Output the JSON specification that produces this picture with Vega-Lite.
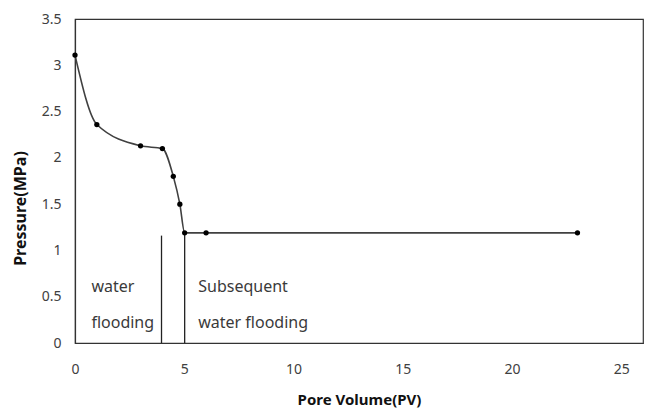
{
  "$schema": "https://vega.github.io/schema/vega-lite/v6.json",
  "width": 568,
  "height": 324,
  "autosize": {"type": "none"},
  "padding": {"left": 75, "top": 19, "right": 8, "bottom": 67},
  "background": "white",
  "config": {
    "view": {"stroke": "#333333", "strokeWidth": 1.2},
    "font": "Noto Sans",
    "axis": {"grid": false, "ticks": false, "labelFlush": false, "labelOverlap": false, "domainColor": "#333333", "domainWidth": 1.2, "labelColor": "#404040", "labelFontSize": 14, "titleColor": "#111111", "titleFontWeight": "bold", "titleFontSize": 15}
  },
  "datasets": {
    "pressure": [
      {"pv": 0, "p": 3.11},
      {"pv": 1, "p": 2.36},
      {"pv": 3, "p": 2.13},
      {"pv": 4, "p": 2.1},
      {"pv": 4.5, "p": 1.8},
      {"pv": 4.8, "p": 1.5},
      {"pv": 5.02, "p": 1.19},
      {"pv": 6, "p": 1.19},
      {"pv": 23, "p": 1.19}
    ],
    "dividers": [
      {"pv": 3.96, "p0": 0, "p1": 1.16},
      {"pv": 5.02, "p0": 0, "p1": 1.19}
    ],
    "notes": [
      {"pv": 0.75, "p": 0.6, "text": "water"},
      {"pv": 0.75, "p": 0.22, "text": "flooding"},
      {"pv": 5.64, "p": 0.6, "text": "Subsequent"},
      {"pv": 5.64, "p": 0.22, "text": "water flooding"}
    ]
  },
  "layer": [
    {
      "data": {"name": "dividers"},
      "mark": {"type": "rule", "color": "#222222", "strokeWidth": 1.3},
      "encoding": {
        "x": {"field": "pv", "type": "quantitative", "scale": {"domain": [0, 25]}},
        "y": {"field": "p0", "type": "quantitative", "scale": {"domain": [0, 3.5]}},
        "y2": {"field": "p1"}
      }
    },
    {
      "data": {"name": "pressure"},
      "mark": {"type": "line", "interpolate": "monotone", "color": "#404040", "strokeWidth": 1.6},
      "encoding": {
        "x": {"field": "pv", "type": "quantitative", "scale": {"domain": [0, 25]},
          "axis": {"title": "Pore Volume(PV)", "values": [0, 5, 10, 15, 20, 25], "format": "~g", "labelPadding": 19, "titlePadding": 16}},
        "y": {"field": "p", "type": "quantitative", "scale": {"domain": [0, 3.5]},
          "axis": {"title": "Pressure(MPa)", "values": [0, 0.5, 1, 1.5, 2, 2.5, 3, 3.5], "format": "~g", "labelPadding": 14, "titlePadding": 13, "titleFontSize": 16, "titleY": 189}}
      }
    },
    {
      "data": {"name": "pressure"},
      "mark": {"type": "point", "filled": true, "color": "#000000", "size": 28, "opacity": 1},
      "encoding": {
        "x": {"field": "pv", "type": "quantitative"},
        "y": {"field": "p", "type": "quantitative"}
      }
    },
    {
      "data": {"name": "notes"},
      "mark": {"type": "text", "align": "left", "baseline": "middle", "fontSize": 16, "color": "#3a3a3a", "font": "Noto Sans"},
      "encoding": {
        "x": {"field": "pv", "type": "quantitative"},
        "y": {"field": "p", "type": "quantitative"},
        "text": {"field": "text"}
      }
    }
  ]
}
